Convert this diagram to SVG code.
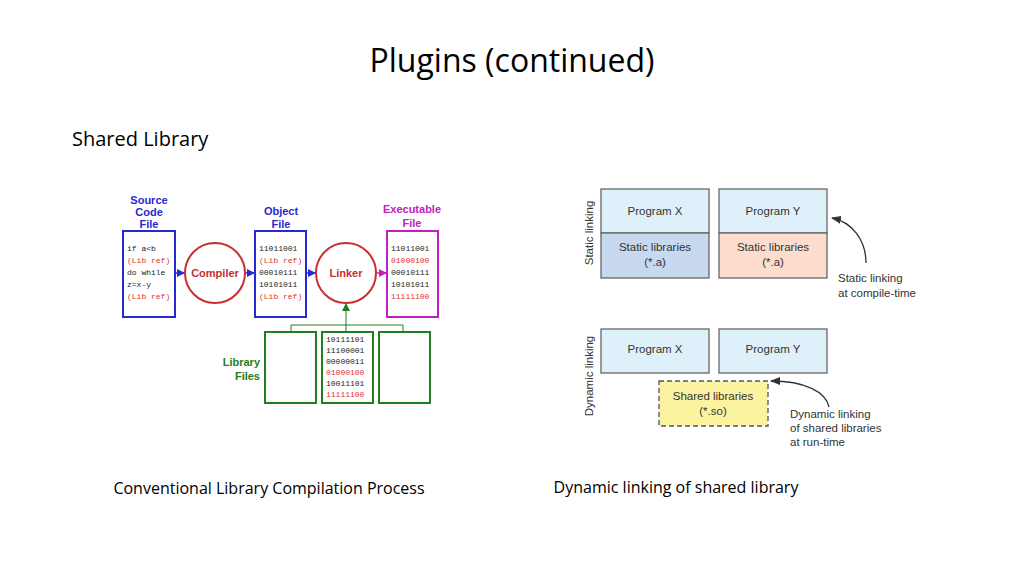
<svg xmlns="http://www.w3.org/2000/svg" width="1024" height="576" viewBox="0 0 1024 576">
<style>
.t{font-family:"Open Sans","Noto Sans",sans-serif;fill:#000}
.a{font-family:"Liberation Sans",Arial,sans-serif}
.b{font-weight:bold;font-size:11px;text-anchor:middle}
.m{font-family:"Liberation Mono",monospace;font-size:8px;fill:#222}
.r{fill:#e03030}
.lbl{font-family:"Liberation Sans",Arial,sans-serif;font-size:11.5px;fill:#333;text-anchor:middle}
.n{font-family:"Liberation Sans",Arial,sans-serif;font-size:11.5px;fill:#333}
.bx{stroke:#666;stroke-width:1.3}
</style>
<defs>
<marker id="bl" markerWidth="8" markerHeight="8" refX="7" refY="4" orient="auto" markerUnits="userSpaceOnUse"><path d="M0,0L8,4L0,8z" fill="#2828d0"/></marker>
<marker id="mg" markerWidth="8" markerHeight="8" refX="7" refY="4" orient="auto" markerUnits="userSpaceOnUse"><path d="M0,0L8,4L0,8z" fill="#c020c0"/></marker>
<marker id="gr" markerWidth="8" markerHeight="8" refX="7" refY="4" orient="auto" markerUnits="userSpaceOnUse"><path d="M0,0L8,4L0,8z" fill="#208020"/></marker>
<marker id="bk" markerWidth="10" markerHeight="8" refX="9" refY="4" orient="auto" markerUnits="userSpaceOnUse"><path d="M0,0L10,4L0,8z" fill="#333"/></marker>
</defs>
<rect width="1024" height="576" fill="#fff"/>
<text class="t" x="512" y="72" font-size="32" text-anchor="middle">Plugins (continued)</text>
<text class="t" x="72" y="146" font-size="20">Shared Library</text>
<text class="t" x="269" y="494" font-size="16" text-anchor="middle">Conventional Library Compilation Process</text>
<text class="t" x="676" y="493" font-size="16" text-anchor="middle">Dynamic linking of shared library</text>

<g id="source"><text class="a b" fill="#2828d0"><tspan x="149" y="204">Source</tspan><tspan x="149" y="216">Code</tspan><tspan x="149" y="228">File</tspan></text>
<rect x="123" y="231" width="52" height="86" fill="#fff" stroke="#2828d0" stroke-width="2"/>
<text class="m" x="127" y="251">if a&lt;b</text><text class="m r" x="127" y="263">(Lib ref)</text><text class="m" x="127" y="275">do while</text><text class="m" x="127" y="287">z=x-y</text><text class="m r" x="127" y="299">(Lib ref)</text></g>
<g id="compiler"><ellipse cx="215" cy="273" rx="30" ry="30" fill="#fff" stroke="#c83030" stroke-width="2"/><text class="a b" x="215" y="277" fill="#c83030" font-size="12">Compiler</text></g>
<g id="object"><text class="a b" fill="#2828d0"><tspan x="281" y="215">Object</tspan><tspan x="281" y="228">File</tspan></text>
<rect x="255" y="231" width="51" height="86" fill="#fff" stroke="#2828d0" stroke-width="2"/>
<text class="m" x="259" y="251">11011001</text><text class="m r" x="259" y="263">(Lib ref)</text><text class="m" x="259" y="275">00010111</text><text class="m" x="259" y="287">10101011</text><text class="m r" x="259" y="299">(Lib ref)</text></g>
<g id="linker"><ellipse cx="346" cy="273" rx="30" ry="30" fill="#fff" stroke="#c83030" stroke-width="2"/><text class="a b" x="346" y="277" fill="#c83030" font-size="12">Linker</text></g>
<g id="exe"><text class="a b" fill="#c020c0"><tspan x="412" y="213">Executable</tspan><tspan x="412" y="227">File</tspan></text>
<rect x="387" y="231" width="51" height="86" fill="#fff" stroke="#c020c0" stroke-width="2"/>
<text class="m" x="391" y="251">11011001</text><text class="m r" x="391" y="263">01000100</text><text class="m" x="391" y="275">00010111</text><text class="m" x="391" y="287">10101011</text><text class="m r" x="391" y="299">11111100</text></g>
<g id="libs"><text class="a" font-weight="bold" font-size="11" fill="#208020" text-anchor="end"><tspan x="260" y="366">Library</tspan><tspan x="260" y="380">Files</tspan></text>
<rect x="265" y="332" width="51" height="71" fill="#fff" stroke="#208020" stroke-width="2"/>
<rect x="322" y="332" width="51" height="71" fill="#fff" stroke="#208020" stroke-width="2"/>
<rect x="379" y="332" width="51" height="71" fill="#fff" stroke="#208020" stroke-width="2"/>
<text class="m" x="326" y="342">10111101</text><text class="m" x="326" y="353">11100001</text><text class="m" x="326" y="364">00000011</text><text class="m r" x="326" y="375">01000100</text><text class="m" x="326" y="386">10011101</text><text class="m r" x="326" y="397">11111100</text></g>
<g id="connectors" fill="none">
<line x1="176" y1="273" x2="184" y2="273" stroke="#2828d0" stroke-width="1.5" marker-end="url(#bl)"/>
<line x1="246" y1="273" x2="254" y2="273" stroke="#2828d0" stroke-width="1.5" marker-end="url(#bl)"/>
<line x1="307" y1="273" x2="315" y2="273" stroke="#2828d0" stroke-width="1.5" marker-end="url(#bl)"/>
<line x1="377" y1="273" x2="386" y2="273" stroke="#c020c0" stroke-width="1.5" marker-end="url(#mg)"/>
<path d="M291,331V325H403V331M346,331V304" stroke="#208020" stroke-width="1" marker-end="url(#gr)"/>
<path d="M866,263C866,240 852,222 832,218" stroke="#333" stroke-width="1.3" marker-end="url(#bk)"/>
<path d="M829,407C826,392 805,381 771,381" stroke="#333" stroke-width="1.3" marker-end="url(#bk)"/>
</g>
<g id="static">
<text class="n" transform="translate(593,233) rotate(-90)" text-anchor="middle">Static linking</text>
<rect class="bx" x="601" y="189" width="108" height="44" fill="#def1fa"/><text class="lbl" x="655" y="215">Program X</text>
<rect class="bx" x="601" y="233" width="108" height="45" fill="#c8d8ee"/><text class="lbl" x="655" y="251">Static libraries</text><text class="lbl" x="655" y="266">(*.a)</text>
<rect class="bx" x="719" y="189" width="108" height="44" fill="#def1fa"/><text class="lbl" x="773" y="215">Program Y</text>
<rect class="bx" x="719" y="233" width="108" height="45" fill="#fbdccd"/><text class="lbl" x="773" y="251">Static libraries</text><text class="lbl" x="773" y="266">(*.a)</text>
<text class="n" x="838" y="282">Static linking</text><text class="n" x="838" y="297">at compile-time</text>
</g>
<g id="dynamic">
<text class="n" transform="translate(593,376) rotate(-90)" text-anchor="middle">Dynamic linking</text>
<rect class="bx" x="601" y="329" width="108" height="44" fill="#def1fa"/><text class="lbl" x="655" y="353">Program X</text>
<rect class="bx" x="719" y="329" width="108" height="44" fill="#def1fa"/><text class="lbl" x="773" y="353">Program Y</text>
<rect x="659" y="381" width="109" height="45" fill="#fbf3a0" stroke="#555" stroke-width="1.3" stroke-dasharray="5,3"/><text class="lbl" x="713" y="400">Shared libraries</text><text class="lbl" x="713" y="415">(*.so)</text>
<text class="n" x="790" y="418">Dynamic linking</text><text class="n" x="790" y="432">of shared libraries</text><text class="n" x="790" y="446">at run-time</text>
</g>
</svg>
